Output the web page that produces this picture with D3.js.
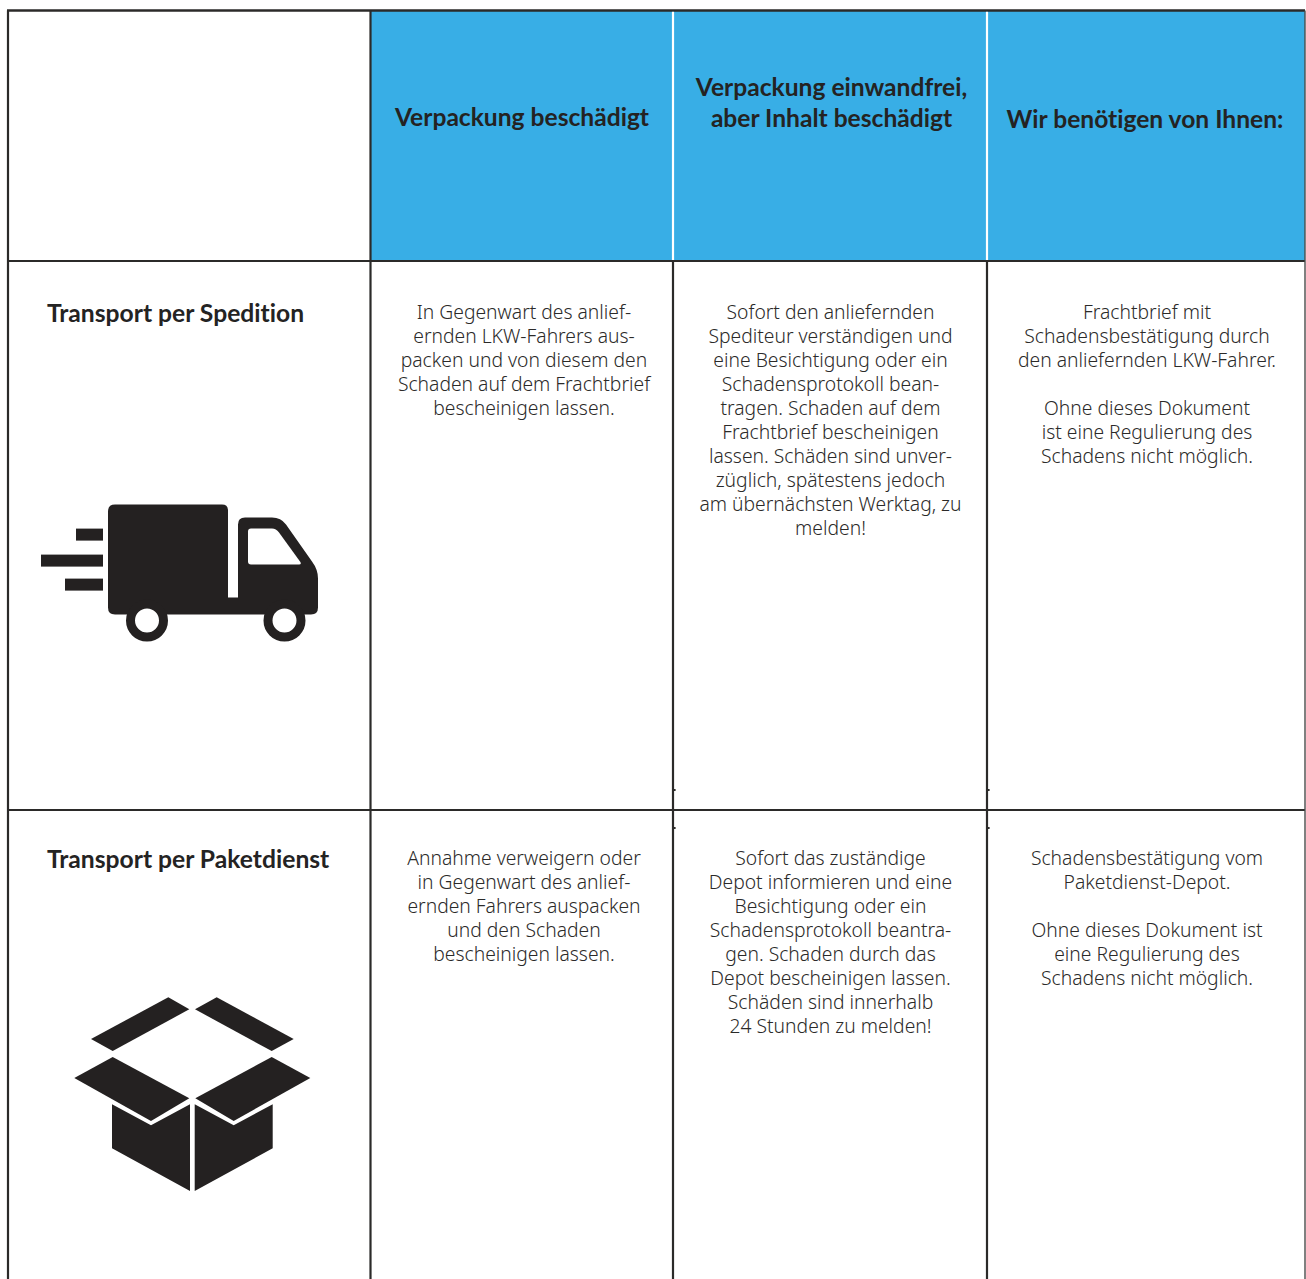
<!DOCTYPE html>
<html>
<head>
<meta charset="utf-8">
<script src="https://cdnjs.cloudflare.com/ajax/libs/d3/7.8.5/d3.min.js"></script>
<style>
html, body { margin: 0; padding: 0; background: #fff; }
svg { display: block; }
text { font-family: "Noto Sans", sans-serif; fill: #2b2a29; font-variant-ligatures: none; }
.body { font-size: 19.3px; font-weight: 300; text-anchor: middle; }
.head { font-family: Lato, sans-serif; font-size: 24.6px; font-weight: 700; text-anchor: middle; fill: #242323; }
.row { font-family: Lato, sans-serif; font-size: 24.65px; font-weight: 700; fill: #242323; }
</style>
</head>
<body>
<div id="chart"></div>
<script>
const columns = ['Verpackung beschädigt', 'Verpackung einwandfrei,|aber Inhalt beschädigt', 'Wir benötigen von Ihnen:'];
const rows = ['Transport per Spedition', 'Transport per Paketdienst'];
const speditionCells = [
    ['In Gegenwart des anlief-', 'ernden LKW-Fahrers aus-', 'packen und von diesem den', 'Schaden auf dem Frachtbrief', 'bescheinigen lassen.'],
    ['Sofort den anliefernden', 'Spediteur verständigen und', 'eine Besichtigung oder ein', 'Schadensprotokoll bean-', 'tragen. Schaden auf dem', 'Frachtbrief bescheinigen', 'lassen. Schäden sind unver-', 'züglich, spätestens jedoch', 'am übernächsten Werktag, zu', 'melden!'],
    ['Frachtbrief mit', 'Schadensbestätigung durch', 'den anliefernden LKW-Fahrer.', '', 'Ohne dieses Dokument', 'ist eine Regulierung des', 'Schadens nicht möglich.']
];
const paketCells = [
    ['Annahme verweigern oder', 'in Gegenwart des anlief-', 'ernden Fahrers auspacken', 'und den Schaden', 'bescheinigen lassen.'],
    ['Sofort das zuständige', 'Depot informieren und eine', 'Besichtigung oder ein', 'Schadensprotokoll beantra-', 'gen. Schaden durch das', 'Depot bescheinigen lassen.', 'Schäden sind innerhalb', '24 Stunden zu melden!'],
    ['Schadensbestätigung vom', 'Paketdienst-Depot.', '', 'Ohne dieses Dokument ist', 'eine Regulierung des', 'Schadens nicht möglich.']
];

const width = 1306, height = 1279;
const ink = '#2b2a29', blue = '#38aee6';

// column edges and text centres of this table are not evenly spaced
const xEdge = d3.scaleOrdinal().domain([0, 1, 2, 3, 4]).range([8, 370.5, 673, 987, 1305]);
const xCenter = d3.scaleOrdinal().domain(columns).range([524, 830.5, 1147]);
const xHead = d3.scaleOrdinal().domain(columns).range([522, 831.5, 1145]);
const yEdge = d3.scaleOrdinal().domain([0, 1, 2, 3]).range([10.5, 261, 810, 1279]);
const yFirst = d3.scaleOrdinal().domain(rows).range([319, 865]);
const lineStep = 24;

const svg = d3.select('#chart').append('svg')
    .attr('width', width)
    .attr('height', height);

// Header band
svg.append('rect')
    .attr('x', xEdge(1))
    .attr('y', yEdge(0))
    .attr('width', xEdge(4) - xEdge(1))
    .attr('height', yEdge(1) - yEdge(0))
    .attr('fill', blue);

// Grid lines
svg.selectAll('.h-line')
    .data([0, 1, 2])
   .enter()
    .append('line')
    .attr('x1', 7)
    .attr('x2', xEdge(4))
    .attr('y1', d => yEdge(d))
    .attr('y2', d => yEdge(d))
    .attr('stroke', ink)
    .attr('stroke-width', d => d === 0 ? 2.6 : 2);

svg.selectAll('.v-line')
    .data([0, 1, 2, 3])
   .enter()
    .append('line')
    .attr('x1', d => xEdge(d))
    .attr('x2', d => xEdge(d))
    .attr('y1', d => d > 1 ? yEdge(1) : yEdge(0))
    .attr('y2', height)
    .attr('stroke', ink)
    .attr('stroke-width', 2.2);

// Thin right edge, cut off by the page
svg.append('line')
    .attr('x1', xEdge(4))
    .attr('x2', xEdge(4))
    .attr('y1', yEdge(0))
    .attr('y2', height)
    .attr('stroke', '#4a4a4a')
    .attr('stroke-width', 1.4);

// White separators in the header
svg.selectAll('.sep')
    .data([2, 3])
   .enter()
    .append('line')
    .attr('x1', d => xEdge(d))
    .attr('x2', d => xEdge(d))
    .attr('y1', yEdge(0) + 1.3)
    .attr('y2', yEdge(1) - 1)
    .attr('stroke', '#fff')
    .attr('stroke-width', 2.2);

// Small print artefacts beside the inner rules, above and below the row line
[2, 3].forEach(e => {
    [-20, 18].forEach(dy => {
        svg.append('rect')
            .attr('x', xEdge(e) + 1)
            .attr('y', yEdge(2) + dy - 1)
            .attr('width', 1.6)
            .attr('height', 2)
            .attr('fill', ink);
    });
});

// Column headers
columns.forEach((c, n) => {
    const parts = c.split('|');
    parts.forEach((p, i) => {
        svg.append('text')
            .attr('class', 'head')
            .attr('x', xHead(c))
            .attr('y', (parts.length > 1 ? 96 : 125.5 + n) + i * 31)
            .text(p);
    });
});

// Row titles
rows.forEach(r => {
    svg.append('text')
        .attr('class', 'row')
        .attr('x', 47)
        .attr('y', yFirst(r) + 3)
        .text(r);
});

// Body cells
[speditionCells, paketCells].forEach((cells, r) => {
    cells.forEach((lines, c) => {
        svg.selectAll(null)
            .data(lines)
           .enter()
            .append('text')
            .attr('class', 'body')
            .attr('x', xCenter(columns[c]))
            .attr('y', (d, i) => yFirst(rows[r]) + i * lineStep)
            .text(d => d);
    });
});

// Truck icon
const truck = svg.append('g').attr('fill', '#242121').attr('transform', 'translate(0,0.6)');
[[76, 528, 27, 12], [41, 554, 62, 12], [65, 578, 38, 12]].forEach(b => {
    truck.append('rect').attr('x', b[0]).attr('y', b[1]).attr('width', b[2]).attr('height', b[3]);
});
truck.append('path')
    .attr('d', 'M115 504H222Q228 504 228 510V597H238V524Q238 517 245 517H272Q281 517 286 524L312 561Q318 569 318 578V607Q318 614 311 614H115Q108 614 108 607V511Q108 504 115 504Z');
truck.append('path')
    .attr('fill', '#fff')
    .attr('d', 'M251 528H272Q276 528 279 532L300 561Q302 564 299 564H251Q248 564 248 561V531Q248 528 251 528Z');
[147, 284.5].forEach(cx => {
    truck.append('circle').attr('cx', cx).attr('cy', 620).attr('r', 16.5)
        .attr('fill', '#fff').attr('stroke', '#242121').attr('stroke-width', 9);
});

// Box icon
const box = svg.append('g').attr('fill', '#242121');
[
    'M168.3 997.3L189.3 1009.3L112.7 1051L91 1039Z',
    'M216.7 997.3L195 1009.3L271.7 1051L293.7 1039Z',
    'M112.7 1057L189.3 1098.3L151 1121L74.3 1078Z',
    'M271.7 1057L310.3 1078L233.7 1121L195.3 1098.3Z',
    'M112 1104.3L151 1125.3L190 1104.3V1191L112 1148.3Z',
    'M194.7 1104.3L233.7 1125.3L272.7 1104.3V1148.3L194.7 1191Z'
].forEach(d => box.append('path').attr('d', d));
</script>
</body>
</html>
